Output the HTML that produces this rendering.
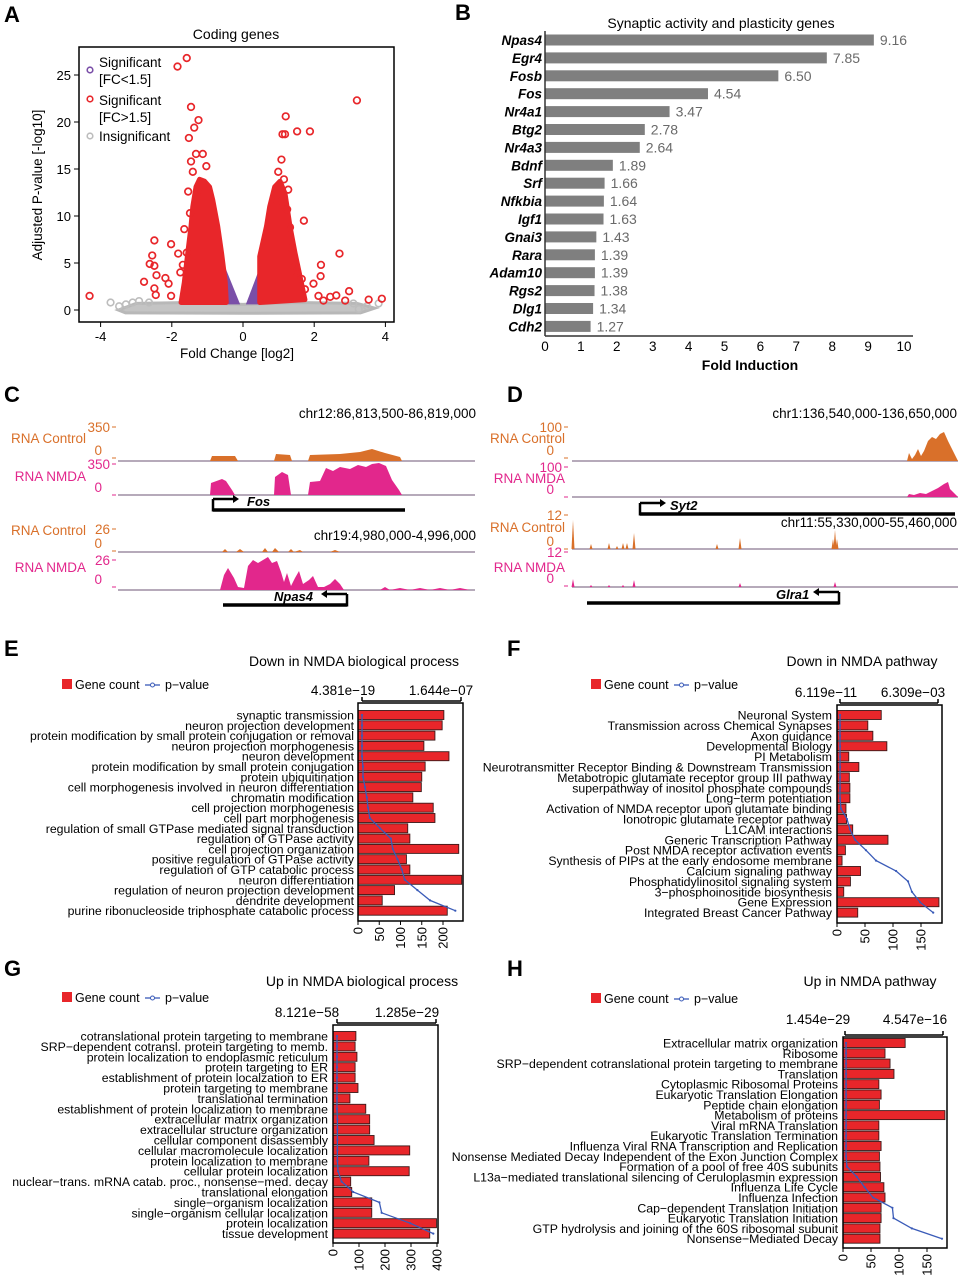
<!DOCTYPE html>
<html><head><meta charset="utf-8">
<style>
html,body{margin:0;padding:0;background:#fff;}
svg{display:block;font-family:"Liberation Sans",Arial,sans-serif;}
</style></head>
<body>
<svg id="fig" width="964" height="1280" viewBox="0 0 964 1280" xmlns="http://www.w3.org/2000/svg"></svg>
<script>
// ===== Panel A data (volcano) =====
const volRedX = [-1.84,-1.58,3.2,-1.46,-1.25,-1.37,-1.52,1.2,1.11,1.18,1.52,1.88,1.71,2.71,2.19,2.18,1.98,2.12,2.26,2.45,2.62,2.87,2.98,3.53,3.9,-4.31,-2.78,-2.49,-2.55,-2.62,-2.49,-2.43,-2.49,-2.45,-2.02,-2.18,-2.09,-2.02,-1.82,-1.58,-1.69,-1.76,-1.65,-1.49,-1.54,-1.46,-1.32,-1.13,-1.41,-1.03,-1.22,0.99,1.08,1.15,0.94,1.32,1.24,1.36,1.41,1.51,1.65,1.74,1.27,1.13];
const volRedY = [25.9,26.8,22.3,21.6,20.2,19.4,18.3,20.6,18.7,18.7,19,19,9.5,6,4.8,3.6,2.8,1.5,1.0,1.4,1.55,1.0,2.0,1.1,1.2,1.5,3.0,7.4,5.8,4.9,4.7,3.7,2.3,1.6,7.0,3.4,2.8,1.5,6.0,6.1,4.8,4.0,8.6,10.3,12.6,15.8,16.6,16.6,14.7,15.3,12.6,14.7,16,13.9,11.7,8.8,10.7,6.6,4.7,4.0,3.3,2.2,12.8,11.0];
const volGrayX = [-3.72,-3.48,-3.29,-3.1,-2.92,-2.64,3.81,3.48,3.25,3.1];
const volGrayY = [0.8,0.4,0.6,0.8,0.95,0.8,0.7,0.4,0.1,0.7];
const volLeftRedX = [-1.74,-1.65,-1.55,-1.46,-1.41,-1.32,-1.22,-1.08,-0.94,-0.85,-0.71,-0.6,-0.5,-0.47];
const volLeftRedY = [0.8,2.9,6.1,8.9,11,13.1,13.9,13.7,13.1,11.7,8.9,6,3.0,0.8];
const volRightRedX = [0.47,0.47,0.66,0.75,0.89,1.04,1.18,1.32,1.46,1.6,1.74];
const volRightRedY = [0.8,5.7,8.9,11,13.1,13.7,12.4,8.9,6.1,3.6,1.1];
const volXTicks = [-4,-2,0,2,4];
const volYTicks = [0,5,10,15,20,25];

// ===== Panel B data =====
const bGenes = ["Npas4","Egr4","Fosb","Fos","Nr4a1","Btg2","Nr4a3","Bdnf","Srf","Nfkbia","Igf1","Gnai3","Rara","Adam10","Rgs2","Dlg1","Cdh2"];
const bValues = [9.16,7.85,6.50,4.54,3.47,2.78,2.64,1.89,1.66,1.64,1.63,1.43,1.39,1.39,1.38,1.34,1.27];
const bTicks = [0,1,2,3,4,5,6,7,8,9,10];

// ===== Panel E data =====
const eCats = ["synaptic transmission","neuron projection development","protein modification by small protein conjugation or removal","neuron projection morphogenesis","neuron development","protein modification by small protein conjugation","protein ubiquitination","cell morphogenesis involved in neuron differentiation","chromatin modification","cell projection morphogenesis","cell part morphogenesis","regulation of small GTPase mediated signal transduction","regulation of GTPase activity","cell projection organization","positive regulation of GTPase activity","regulation of GTP catabolic process","neuron differentiation","regulation of neuron projection development","dendrite development","purine ribonucleoside triphosphate catabolic process"];
const eCounts = [202,198,181,155,214,158,150,149,129,177,181,117,122,237,114,122,244,86,57,210];
const ePvals = [0,0,0,0,0,0.016,0.016,0.05,0.08,0.10,0.13,0.30,0.48,0.51,0.59,0.66,0.71,0.92,1.13,1.55]; // x1e-07
const eTicks = [0,50,100,150,200];

// ===== Panel F data =====
const fCats = ["Neuronal System","Transmission across Chemical Synapses","Axon guidance","Developmental Biology","PI Metabolism","Neurotransmitter Receptor Binding & Downstream Transmission","Metabotropic glutamate receptor group III pathway","superpathway of inositol phosphate compounds","Long\u2212term potentiation","Activation of NMDA receptor upon glutamate binding","Ionotropic glutamate receptor pathway","L1CAM interactions","Generic Transcription Pathway","Post NMDA receptor activation events","Synthesis of PIPs at the early endosome membrane","Calcium signaling pathway","Phosphatidylinositol signaling system","3\u2212phosphoinositide biosynthesis","Gene Expression","Integrated Breast Cancer Pathway"];
const fCounts = [79,55,64,89,21,39,22,23,23,16,17,28,91,15,9,42,24,12,182,37];
const fPvals = [0,0,0,0,0,0,0,0,0,0.06,0.45,0.64,0.97,1.67,2.32,3.61,4.38,4.63,5.15,6.0]; // x1e-03
const fTicks = [0,50,100,150];

// ===== Panel G data =====
const gCats = ["cotranslational protein targeting to membrane","SRP\u2212dependent cotransl. protein targeting to memb.","protein localization to endoplasmic reticulum","protein targeting to ER","establishment of protein localzation to ER","protein targeting to membrane","translational termination","establishment of protein localization to membrane","extracellular matrix organization","extracellular structure organization","cellular component disassembly","cellular macromolecule localization","protein localization to membrane","cellular protein localization","nuclear\u2212trans. mRNA catab. proc., nonsense\u2212med. decay","translational elongation","single\u2212organism localization","single\u2212organism cellular localization","protein localization","tissue development"];
const gCounts = [88,85,92,85,85,96,65,126,141,141,158,295,138,293,68,72,149,149,398,372];
const gPvals = [0,0,0,0,0,0,0,0,0.005,0.005,0.005,0.005,0.005,0.013,0.06,0.21,0.55,0.58,0.95,1.25]; // x1e-29
const gTicks = [0,100,200,300,400];

// ===== Panel H data =====
const hCats = ["Extracellular matrix organization","Ribosome","SRP\u2212dependent cotranslational protein targeting to membrane","Translation","Cytoplasmic Ribosomal Proteins","Eukaryotic Translation Elongation","Peptide chain elongation","Metabolism of proteins","Viral mRNA Translation","Eukaryotic Translation Termination","Influenza Viral RNA Transcription and Replication","Nonsense Mediated Decay Independent of the Exon Junction Complex","Formation of a pool of free 40S subunits","L13a\u2212mediated translational silencing of Ceruloplasmin expression","Influenza Life Cycle","Influenza Infection","Cap\u2212dependent Translation Initiation","Eukaryotic Translation Initiation","GTP hydrolysis and joining of the 60S ribosomal subunit","Nonsense\u2212Mediated Decay"];
const hCounts = [111,75,84,91,64,68,65,182,64,64,68,65,66,67,73,75,68,68,66,66];
const hPvals = [0.05,0.05,0.05,0.05,0.05,0.05,0.05,0.05,0.05,0.05,0.05,0.05,0.09,0.55,0.91,1.3,2.2,2.25,3.1,4.5]; // x1e-16
const hTicks = [0,50,100,150];

const NS = "http://www.w3.org/2000/svg";
const svg = document.getElementById('fig');
function mk(tag, attrs, name, parent){
  const el = document.createElementNS(NS, tag);
  for (const k in attrs) el.setAttribute(k, attrs[k]);
  
  
  (parent || svg).appendChild(el);
  return el;
}
function txt(x, y, s, attrs, name, parent){
  const a = Object.assign({x:x, y:y}, attrs || {});
  const t = mk('text', a, name, parent);
  t.textContent = s;
  return t;
}
function grp(name){ return mk('g', {}, name); }

// Panel letters
[["A",4,22],["B",455,20],["C",4,402],["D",507,402],["E",4,656],["F",507,656],["G",4,976],["H",507,976]].forEach(p=>{
  txt(p[1], p[2], p[0], {'font-size':22,'font-weight':'bold'}, 'panel-label-'+p[0].toLowerCase());
});

// ===== Panel A =====
(function(){
  const g = grp('volcano-plot');
  const X0=79, X1=394, Y0=47, Y1=322;
  const xs = v => 243 + v*35.6;
  const ys = v => 310 - v*9.4;
  txt(236, 39, 'Coding genes', {'font-size':14,'text-anchor':'middle'}, 'volcano-title', g);
  const grayPoly = [[-3.5,0],[-3.0,0.7],[-1.5,0.8],[0,0.6],[1.5,0.8],[3.2,0.7],[3.7,0.2],[3.3,-0.3],[0,-0.35],[-3.3,-0.3]];
  mk('polygon',{points:grayPoly.map(p=>xs(p[0])+','+ys(p[1])).join(' '),fill:'#c4c4c4',stroke:'#b8b8b8','stroke-width':3},'insignificant-cloud',g);
  mk('polygon',{points:[[-0.55,5],[-0.45,0.6],[-0.08,0.6]].map(p=>xs(p[0])+','+ys(p[1])).join(' '),fill:'#7a4fa8'},'purple-cloud-left',g);
  mk('polygon',{points:[[0.52,5],[0.47,0.6],[0.08,0.6]].map(p=>xs(p[0])+','+ys(p[1])).join(' '),fill:'#7a4fa8'},'purple-cloud-right',g);
  mk('polygon',{points:volLeftRedX.map((v,i)=>xs(v)+','+ys(volLeftRedY[i])).join(' '),fill:'#e8262a',stroke:'#e8262a','stroke-width':5,'stroke-linejoin':'round'},'red-cloud-left',g);
  mk('polygon',{points:volRightRedX.map((v,i)=>xs(v)+','+ys(volRightRedY[i])).join(' '),fill:'#e8262a',stroke:'#e8262a','stroke-width':5,'stroke-linejoin':'round'},'red-cloud-right',g);
  volGrayX.forEach((v,i)=>{
    mk('circle',{cx:xs(v),cy:ys(volGrayY[i]),r:3.3,fill:'none',stroke:'#bdbdbd','stroke-width':1.6},'gray-point',g);
  });
  volRedX.forEach((v,i)=>{
    mk('circle',{cx:xs(v),cy:ys(volRedY[i]),r:3.3,fill:'none',stroke:'#e8262a','stroke-width':1.7},'red-point',g);
  });
  mk('rect',{x:X0,y:Y0,width:X1-X0,height:Y1-Y0,fill:'none',stroke:'#000','stroke-width':1.5},'volcano-frame',g);
  volXTicks.forEach(t=>{
    mk('line',{x1:xs(t),x2:xs(t),y1:Y1,y2:Y1+5,stroke:'#000'},'x-tick',g);
    txt(xs(t), Y1+19, t<0?('-'+Math.abs(t)):String(t), {'font-size':13,'text-anchor':'middle'}, 'x-tick-label', g);
  });
  volYTicks.forEach(t=>{
    mk('line',{x1:X0-5,x2:X0,y1:ys(t),y2:ys(t),stroke:'#000'},'y-tick',g);
    txt(X0-8, ys(t)+5, String(t), {'font-size':13,'text-anchor':'end'}, 'y-tick-label', g);
  });
  txt(237, 358, 'Fold Change [log2]', {'font-size':13.5,'text-anchor':'middle'}, 'x-axis-title', g);
  txt(0,0,'Adjusted P-value [-log10]',{'font-size':13.5,'text-anchor':'middle',transform:'translate(42,185) rotate(-90)'},'y-axis-title',g);
  const lg = mk('g',{},'volcano-legend',g);
  mk('circle',{cx:90,cy:70,r:2.8,fill:'none',stroke:'#7a4fa8','stroke-width':1.6},'legend-marker-purple',lg);
  txt(99,67,'Significant',{'font-size':13.5},'legend-entry',lg);
  txt(99,84,'[FC<1.5]',{'font-size':13.5},'legend-entry',lg);
  mk('circle',{cx:90,cy:99,r:2.8,fill:'none',stroke:'#e8262a','stroke-width':1.6},'legend-marker-red',lg);
  txt(99,105,'Significant',{'font-size':13.5},'legend-entry',lg);
  txt(99,122,'[FC>1.5]',{'font-size':13.5},'legend-entry',lg);
  mk('circle',{cx:90,cy:136,r:2.8,fill:'none',stroke:'#bdbdbd','stroke-width':1.6},'legend-marker-gray',lg);
  txt(99,141,'Insignificant',{'font-size':13.5},'legend-entry',lg);
})();

// ===== Panel B =====
(function(){
  const g = grp('fold-induction-chart');
  const X0=545, U=35.9, R0=40, ST=17.9;
  const xs = v => X0 + v*U;
  txt(721, 28, 'Synaptic activity and plasticity genes', {'font-size':14,'text-anchor':'middle'}, 'bar-chart-title', g);
  bGenes.forEach((name,i)=>{
    const y = R0 + i*ST;
    mk('rect',{x:X0,y:y-5.5,width:xs(bValues[i])-X0,height:11,fill:'#7f7f7f'},'bar-'+name.toLowerCase(),g);
    txt(542, y+5, name, {'font-size':13.5,'font-weight':'bold','font-style':'italic','text-anchor':'end'}, 'gene-label', g);
    txt(xs(bValues[i])+6, y+5, bValues[i].toFixed(2), {'font-size':14,fill:'#6a6a6a'}, 'value-label', g);
  });
  mk('line',{x1:X0,x2:X0,y1:31,y2:336,stroke:'#333','stroke-width':1.5},'y-axis-line',g);
  mk('line',{x1:X0,x2:913,y1:336,y2:336,stroke:'#333','stroke-width':1.5},'x-axis-line',g);
  bTicks.forEach(t=>{
    txt(xs(t), 351, String(t), {'font-size':13.5,'text-anchor':'middle'}, 'x-tick-label', g);
  });
  txt(750, 370, 'Fold Induction', {'font-size':14,'font-weight':'bold','text-anchor':'middle'}, 'x-axis-title', g);
})();

// ===== Panels C & D (genome tracks) =====
const ORANGE='#d9702a', PINK='#e2278c';
function area(g, base, pts, color, name, x0, x1){
  const d = [[x0,0]].concat(pts).concat([[x1,0]]);
  mk('line',{x1:x0,x2:x1,y1:base,y2:base,stroke:'#8a7890','stroke-width':1.2},name+'-baseline',g);
  mk('polygon',{points:d.map(p=>p[0]+','+(base-p[1])).join(' '),fill:color},name,g);
}
function spikes(g, base, list, color, name){
  list.forEach(s=>{
    mk('polygon',{points:(s[0]-1.5)+','+base+' '+s[0]+','+(base-s[1])+' '+(s[0]+1.5)+','+base,fill:color},name,g);
  });
}
function trackLabels(g, lx, tx, label, color, top, topY, zeroY, ly){
  txt(lx, ly, label, {'font-size':13.5,fill:color,'text-anchor':'end'}, 'track-label', g);
  txt(tx, topY+5, top, {'font-size':13.5,fill:color,'text-anchor':'end'}, 'track-max-label', g);
  mk('line',{x1:tx+2,x2:tx+6,y1:topY,y2:topY,stroke:color},'track-tick',g);
  txt(tx-8, zeroY+5, '0', {'font-size':13.5,fill:color,'text-anchor':'end'}, 'track-zero-label', g);
  mk('line',{x1:tx+2,x2:tx+6,y1:zeroY+8,y2:zeroY+8,stroke:color},'track-tick',g);
}
function gene(g, x0, x1, y, tssX, dir, label, labelX, name){
  mk('line',{x1:x0,x2:x1,y1:y,y2:y,stroke:'#000','stroke-width':3.5},name+'-gene-body',g);
  mk('line',{x1:tssX,x2:tssX,y1:y+1.5,y2:y-11,stroke:'#000','stroke-width':2.5},name+'-tss',g);
  const ax = tssX + dir*20;
  mk('line',{x1:tssX,x2:ax,y1:y-11,y2:y-11,stroke:'#000','stroke-width':2.5},name+'-tss-arrow',g);
  mk('polygon',{points:(ax+dir*6)+','+(y-11)+' '+ax+','+(y-15)+' '+ax+','+(y-7),fill:'#000'},name+'-arrowhead',g);
  txt(labelX, y-4, label, {'font-size':13,'font-weight':'bold','font-style':'italic'}, name+'-gene-label', g);
}
(function(){
  const g = grp('panel-c-tracks');
  txt(476, 418, 'chr12:86,813,500-86,819,000', {'font-size':13.5,'text-anchor':'end'}, 'locus-label-fos', g);
  trackLabels(g, 86, 110, 'RNA Control', ORANGE, '350', 427, 450, 443);
  trackLabels(g, 86, 110, 'RNA NMDA', PINK, '350', 464, 487, 481);
  area(g, 461, [[210,0],[212,5],[235,5],[238,0],[274,0],[276,7],[290,6],[292,0],[308,0],[310,6],[340,7],[360,9],[372,12],[385,8],[400,4],[402,0]], ORANGE, 'fos-control-signal', 118, 475);
  area(g, 495, [[210,0],[211,12],[222,16],[226,14],[232,5],[235,0],[274,0],[275,18],[282,23],[288,20],[291,0],[308,0],[310,13],[320,14],[326,27],[333,24],[340,28],[350,26],[358,30],[366,28],[372,31],[379,32],[386,29],[392,15],[399,5],[402,0]], PINK, 'fos-nmda-signal', 118, 475);
  gene(g, 213, 405, 510, 213, 1, 'Fos', 247, 'fos');
  txt(476, 540, 'chr19:4,980,000-4,996,000', {'font-size':13.5,'text-anchor':'end'}, 'locus-label-npas4', g);
  trackLabels(g, 86, 110, 'RNA Control', ORANGE, '26', 529, 543, 535);
  trackLabels(g, 86, 110, 'RNA NMDA', PINK, '26', 560, 579, 572);
  area(g, 552, [[222,0],[225,3],[228,0],[236,0],[240,3],[244,0],[262,0],[265,4],[268,0],[272,0],[275,4],[279,0],[288,0],[291,3],[294,0],[300,2],[303,0],[330,0],[335,2],[340,0]], ORANGE, 'npas4-control-signal', 118, 475);
  area(g, 590, [[220,0],[224,15],[228,22],[234,12],[238,3],[244,2],[248,24],[253,30],[258,27],[263,30],[268,33],[272,27],[277,29],[281,18],[284,8],[287,17],[291,4],[295,12],[299,19],[303,6],[309,10],[313,14],[318,3],[324,3],[330,6],[335,11],[340,6],[344,0],[380,0],[385,3],[390,0],[400,2],[410,0],[420,2],[430,0],[440,2],[450,0],[460,2],[470,0]], PINK, 'npas4-nmda-signal', 118, 475);
  gene(g, 223, 347, 605, 347, -1, 'Npas4', 274, 'npas4');
})();
(function(){
  const g = grp('panel-d-tracks');
  txt(957, 418, 'chr1:136,540,000-136,650,000', {'font-size':13.5,'text-anchor':'end'}, 'locus-label-syt2', g);
  trackLabels(g, 565, 562, 'RNA Control', ORANGE, '100', 427, 450, 443);
  trackLabels(g, 565, 562, 'RNA NMDA', PINK, '100', 467, 489, 483);
  area(g, 461, [[907,0],[909,8],[912,2],[915,6],[918,12],[921,5],[924,10],[928,20],[932,24],[936,22],[940,27],[944,29],[948,20]], ORANGE, 'syt2-control-signal', 572, 958);
  area(g, 497, [[907,0],[909,3],[914,2],[920,4],[926,3],[932,6],[938,9],[944,13],[948,15],[950,8]], PINK, 'syt2-nmda-signal', 572, 958);
  gene(g, 640, 955, 514, 640, 1, 'Syt2', 670, 'syt2');
  txt(957, 527, 'chr11:55,330,000-55,460,000', {'font-size':13.5,'text-anchor':'end'}, 'locus-label-glra1', g);
  trackLabels(g, 565, 562, 'RNA Control', ORANGE, '12', 515, 541, 532);
  trackLabels(g, 565, 562, 'RNA NMDA', PINK, '12', 552, 578, 572);
  mk('line',{x1:572,x2:958,y1:549,y2:549,stroke:'#8a7890','stroke-width':1.2},'glra1-control-baseline',g);
  spikes(g, 549, [[573,29],[591,5],[609,6],[617,3],[623,6],[627,6],[634,16],[717,5],[740,11],[835,19],[833,10],[837,10]], ORANGE, 'glra1-control-spike');
  mk('line',{x1:572,x2:958,y1:587,y2:587,stroke:'#8a7890','stroke-width':1.2},'glra1-nmda-baseline',g);
  spikes(g, 587, [[573,8],[591,2],[609,2],[623,2],[634,7],[740,4],[835,5]], PINK, 'glra1-nmda-spike');
  gene(g, 587, 839, 603, 839, -1, 'Glra1', 776, 'glra1');
})();

// ===== GO charts =====
function goChart(key, cats, counts, pvals, ticks, c){
  const g = grp('go-chart-'+key);
  const xs = v => c.bx0 + v*c.unit;
  const ps = v => c.px0 + (v/c.pMax)*(c.px1-c.px0);
  txt(c.tx, c.ty, c.title, {'font-size':14,'text-anchor':'middle'}, 'chart-title', g);
  mk('rect',{x:c.lx,y:c.ly-5,width:10,height:10,fill:'#e8262a'},'legend-swatch-gene-count',g);
  txt(c.lx+13, c.ly+5, 'Gene count', {'font-size':12.5}, 'legend-entry-gene-count', g);
  mk('line',{x1:c.lx+83,x2:c.lx+98,y1:c.ly+1,y2:c.ly+1,stroke:'#3a5bb8','stroke-width':1.3},'legend-line-pvalue',g);
  mk('circle',{cx:c.lx+90.5,cy:c.ly+1,r:2,fill:'#fff',stroke:'#3a5bb8'},'legend-marker-pvalue',g);
  txt(c.lx+103, c.ly+5, 'p\u2212value', {'font-size':12.5}, 'legend-entry-pvalue', g);
  mk('line',{x1:c.px0,x2:c.px1,y1:c.by0-2,y2:c.by0-2,stroke:'#000','stroke-width':1.5},'pvalue-axis',g);
  mk('line',{x1:c.px0,x2:c.px0,y1:c.by0-2,y2:c.by0-6,stroke:'#000','stroke-width':1.5},'pvalue-tick',g);
  mk('line',{x1:c.px1,x2:c.px1,y1:c.by0-2,y2:c.by0-6,stroke:'#000','stroke-width':1.5},'pvalue-tick',g);
  txt(c.l0x, c.ly2, c.pl0, {'font-size':13.5,'text-anchor':'middle'}, 'pvalue-min-label', g);
  txt(c.l1x, c.ly2, c.pl1, {'font-size':13.5,'text-anchor':'middle'}, 'pvalue-max-label', g);
  const rowY = i => c.r0 + i*c.st;
  cats.forEach((cat,i)=>{
    const y = rowY(i);
    mk('rect',{x:c.bx0,y:y-4.5,width:xs(counts[i])-c.bx0,height:9,fill:'#e8262a',stroke:'#3b1a1a','stroke-width':0.9},'bar-gene-count',g);
    txt(c.lab, y+4.5, cat, {'font-size':12.3,'text-anchor':'end'}, 'category-label', g);
  });
  const pts = pvals.map((p,i)=>ps(p)+','+rowY(i)).join(' ');
  mk('polyline',{points:pts,fill:'none',stroke:'#3a5bb8','stroke-width':1.3},'pvalue-line',g);
  pvals.forEach((p,i)=>{
    mk('circle',{cx:ps(p),cy:rowY(i),r:1.1,fill:'#3a5bb8'},'pvalue-point',g);
  });
  mk('rect',{x:c.bx0,y:c.by0,width:c.bx1-c.bx0,height:c.by1-c.by0,fill:'none',stroke:'#000','stroke-width':1.5},'plot-frame',g);
  ticks.forEach(t=>{
    mk('line',{x1:xs(t),x2:xs(t),y1:c.by1,y2:c.by1+4,stroke:'#000'},'x-tick',g);
    txt(0,0,String(t),{'font-size':13,'text-anchor':'end',transform:'translate('+(xs(t)+4.5)+','+(c.by1+6)+') rotate(-90)'},'x-tick-label',g);
  });
}
goChart('e', eCats, eCounts, ePvals, eTicks, {bx0:358,bx1:463,by0:703,by1:921,unit:0.425,r0:715,st:10.3,px0:362,px1:461,pMax:1.644,lab:354,title:'Down in NMDA biological process',tx:354,ty:666,lx:62,ly:684,pl0:'4.381e\u221219',pl1:'1.644e\u221207',l0x:343,l1x:441,ly2:695});
goChart('f', fCats, fCounts, fPvals, fTicks, {bx0:837,bx1:942,by0:705,by1:923,unit:0.56,r0:715,st:10.4,px0:840,px1:938,pMax:6.309,lab:832,title:'Down in NMDA pathway',tx:862,ty:666,lx:591,ly:684,pl0:'6.119e\u221211',pl1:'6.309e\u221203',l0x:826,l1x:913,ly2:697});
goChart('g', gCats, gCounts, gPvals, gTicks, {bx0:333,bx1:438,by0:1025,by1:1243,unit:0.26,r0:1036,st:10.4,px0:337,px1:436,pMax:1.285,lab:328,title:'Up in NMDA biological process',tx:362,ty:986,lx:62,ly:997,pl0:'8.121e\u221258',pl1:'1.285e\u221229',l0x:307,l1x:407,ly2:1017});
goChart('h', hCats, hCounts, hPvals, hTicks, {bx0:843,bx1:947,by0:1037,by1:1248,unit:0.56,r0:1043,st:10.3,px0:845,px1:943,pMax:4.547,lab:838,title:'Up in NMDA pathway',tx:870,ty:986,lx:591,ly:998,pl0:'1.454e\u221229',pl1:'4.547e\u221216',l0x:818,l1x:915,ly2:1024});
</script>
</body></html>
